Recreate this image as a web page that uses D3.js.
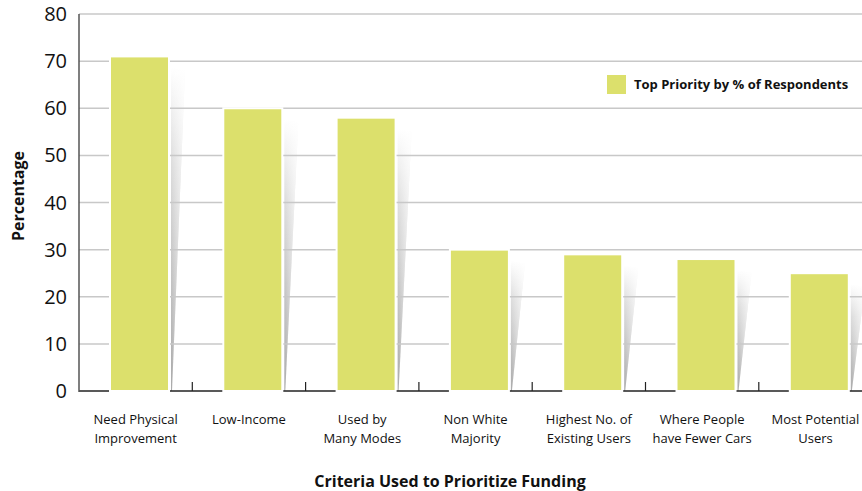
<!DOCTYPE html>
<html>
<head>
<meta charset="utf-8">
<script src="https://cdn.jsdelivr.net/npm/d3@7"></script>
<style>
  body { margin: 0; background: #fff; }
  svg { font-family: "Open Sans", "Noto Sans", sans-serif; }
</style>
</head>
<body>
<svg id="chart" width="862" height="491"></svg>
<script>
var categories = [
  ["Need Physical", "Improvement"],
  ["Low-Income"],
  ["Used by", "Many Modes"],
  ["Non White", "Majority"],
  ["Highest No. of", "Existing Users"],
  ["Where People", "have Fewer Cars"],
  ["Most Potential", "Users"]
];
var values = [71, 60, 58, 30, 29, 28, 25];
var yTicks = [0, 10, 20, 30, 40, 50, 60, 70, 80];
var legendLabel = "Top Priority by % of Respondents";

var svg = d3.select("#chart");
var plotLeft = 79, plotTop = 14, plotBottom = 391, band = 113.3;

var x = d3.scaleBand()
    .domain(d3.range(categories.length))
    .range([plotLeft, plotLeft + band * categories.length])
    .paddingInner(0).paddingOuter(0);

var y = d3.scaleLinear().domain([0, 80]).range([plotBottom, plotTop]);

// shadow gradients: grey growing downwards, fading out to the right
var defs = svg.append("defs");
var vg = defs.append("linearGradient")
    .attr("id", "shadowV").attr("x1", 0).attr("y1", 0).attr("x2", 0).attr("y2", 1);
vg.append("stop").attr("offset", "0%").attr("stop-color", "#ffffff");
vg.append("stop").attr("offset", "30%").attr("stop-color", "#dcdcdc");
vg.append("stop").attr("offset", "100%").attr("stop-color", "#a8a8a8");
var hg = defs.append("linearGradient")
    .attr("id", "shadowH").attr("x1", 0).attr("y1", 0).attr("x2", 1).attr("y2", 0);
hg.append("stop").attr("offset", "0%").attr("stop-color", "#fff").attr("stop-opacity", 0);
hg.append("stop").attr("offset", "100%").attr("stop-color", "#fff").attr("stop-opacity", 0.8);

var barOff = 31, barW = 59;

function shadowPath(d, i) {
  var r = x(i) + barOff + barW, t = y(d);
  return "M" + (r + 2) + "," + (t + 11) + " L" + (r + 16) + "," + (t + 14) +
         " L" + (r + 3) + "," + plotBottom + " L" + (r + 2) + "," + plotBottom + "Z";
}

// shadows
var sh = svg.append("g").selectAll("g.shadow")
    .data(values).enter().append("g").attr("class", "shadow");
sh.append("path").attr("d", shadowPath).attr("fill", "url(#shadowV)");
sh.append("path").attr("d", shadowPath).attr("fill", "url(#shadowH)");

// gridlines
svg.append("g").selectAll("line.grid")
    .data(yTicks.filter(function(d){ return d > 0; }))
    .enter().append("line")
    .attr("class", "grid")
    .attr("x1", plotLeft).attr("x2", 862)
    .attr("y1", function(d){ return y(d); }).attr("y2", function(d){ return y(d); })
    .attr("stroke", "#c8c8c8").attr("stroke-width", 1.5);

// x axis line with ticks between categories
svg.append("line")
    .attr("x1", plotLeft).attr("x2", 862).attr("y1", plotBottom).attr("y2", plotBottom)
    .attr("stroke", "#222").attr("stroke-width", 1.5);
svg.append("g").selectAll("line.tick")
    .data(d3.range(1, categories.length))
    .enter().append("line")
    .attr("x1", function(d){ return x(d); }).attr("x2", function(d){ return x(d); })
    .attr("y1", plotBottom).attr("y2", plotBottom - 9)
    .attr("stroke", "#222").attr("stroke-width", 1.2);

// bars
svg.append("g").selectAll("rect")
    .data(values).enter().append("rect")
    .attr("x", function(d, i){ return x(i) + barOff; })
    .attr("y", function(d){ return y(d); })
    .attr("width", barW)
    .attr("height", function(d){ return plotBottom - y(d); })
    .attr("fill", "#dce06c")
    .attr("stroke", "#fff").attr("stroke-width", 2);

// y axis
svg.append("line")
    .attr("x1", plotLeft).attr("x2", plotLeft).attr("y1", plotTop).attr("y2", plotBottom + 1)
    .attr("stroke", "#555").attr("stroke-width", 1.5);
svg.append("g").selectAll("text.ytick")
    .data(yTicks).enter().append("text")
    .attr("x", 67).attr("y", function(d){ return y(d) + 7; })
    .attr("text-anchor", "end")
    .attr("font-size", 20).attr("fill", "#111")
    .text(function(d){ return d; });

// category labels
var lab = svg.append("g").selectAll("text.cat")
    .data(categories).enter().append("text")
    .attr("text-anchor", "middle")
    .attr("font-size", 13).attr("fill", "#111");
lab.selectAll("tspan")
    .data(function(d, i){ return d.map(function(s){ return { s: s, i: i }; }); })
    .enter().append("tspan")
    .attr("x", function(d){ return x(d.i) + x.bandwidth() / 2; })
    .attr("y", function(d, j){ return 424 + j * 19; })
    .text(function(d){ return d.s; });

// axis titles
svg.append("text")
    .attr("transform", "translate(24,196) rotate(-90)")
    .attr("text-anchor", "middle")
    .attr("font-size", 16).attr("font-weight", "bold").attr("fill", "#111")
    .text("Percentage");
svg.append("text")
    .attr("x", 450).attr("y", 487)
    .attr("text-anchor", "middle")
    .attr("font-size", 16).attr("font-weight", "bold").attr("fill", "#111")
    .text("Criteria Used to Prioritize Funding");

// legend
svg.append("rect")
    .attr("x", 607).attr("y", 75).attr("width", 19).attr("height", 19)
    .attr("fill", "#dce06c");
svg.append("text")
    .attr("x", 634).attr("y", 89)
    .attr("font-size", 13).attr("font-weight", "bold").attr("fill", "#111")
    .text(legendLabel);
</script>
</body>
</html>
